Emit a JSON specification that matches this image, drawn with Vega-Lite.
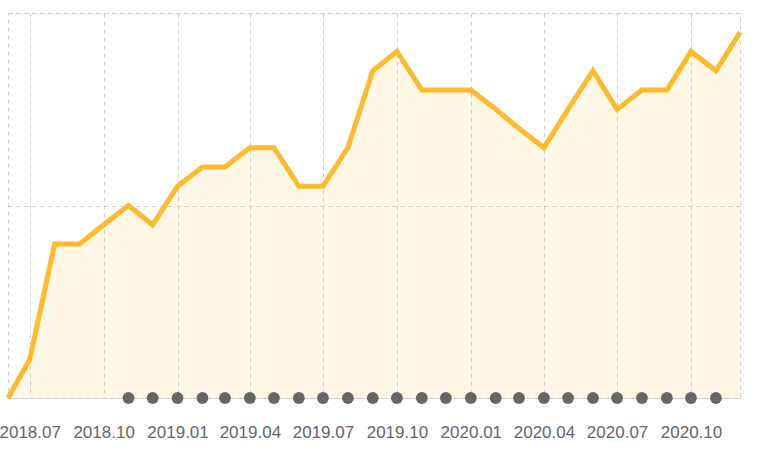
{
  "$schema": "https://vega.github.io/schema/vega-lite/v6.json",
  "autosize": "none",
  "width": 732,
  "height": 385,
  "padding": {"left": 8, "top": 13, "right": 25, "bottom": 56},
  "background": "white",
  "config": {
    "view": {"stroke": "#cccccc", "strokeDash": [4, 4], "strokeWidth": 1},
    "font": "Liberation Sans"
  },
  "datasets": {
    "series": [
      {"month": "2018/06/04", "value": 0},
      {"month": "2018/07/01", "value": 2},
      {"month": "2018/08/01", "value": 8},
      {"month": "2018/09/01", "value": 8},
      {"month": "2018/10/01", "value": 9},
      {"month": "2018/11/01", "value": 10},
      {"month": "2018/12/01", "value": 9},
      {"month": "2019/01/01", "value": 11},
      {"month": "2019/02/01", "value": 12},
      {"month": "2019/03/01", "value": 12},
      {"month": "2019/04/01", "value": 13},
      {"month": "2019/05/01", "value": 13},
      {"month": "2019/06/01", "value": 11},
      {"month": "2019/07/01", "value": 11},
      {"month": "2019/08/01", "value": 13},
      {"month": "2019/09/01", "value": 17},
      {"month": "2019/10/01", "value": 18},
      {"month": "2019/11/01", "value": 16},
      {"month": "2019/12/01", "value": 16},
      {"month": "2020/01/01", "value": 16},
      {"month": "2020/02/01", "value": 15},
      {"month": "2020/03/01", "value": 14},
      {"month": "2020/04/01", "value": 13},
      {"month": "2020/05/01", "value": 15},
      {"month": "2020/06/01", "value": 17},
      {"month": "2020/07/01", "value": 15},
      {"month": "2020/08/01", "value": 16},
      {"month": "2020/09/01", "value": 16},
      {"month": "2020/10/01", "value": 18},
      {"month": "2020/11/01", "value": 17},
      {"month": "2020/12/01", "value": 19}
    ],
    "dots": [
      {"month": "2018/11/01"}, {"month": "2018/12/01"},
      {"month": "2019/01/01"}, {"month": "2019/02/01"}, {"month": "2019/03/01"},
      {"month": "2019/04/01"}, {"month": "2019/05/01"}, {"month": "2019/06/01"},
      {"month": "2019/07/01"}, {"month": "2019/08/01"}, {"month": "2019/09/01"},
      {"month": "2019/10/01"}, {"month": "2019/11/01"}, {"month": "2019/12/01"},
      {"month": "2020/01/01"}, {"month": "2020/02/01"}, {"month": "2020/03/01"},
      {"month": "2020/04/01"}, {"month": "2020/05/01"}, {"month": "2020/06/01"},
      {"month": "2020/07/01"}, {"month": "2020/08/01"}, {"month": "2020/09/01"},
      {"month": "2020/10/01"}, {"month": "2020/11/01"}
    ]
  },
  "encoding": {
    "x": {
      "field": "month",
      "type": "temporal",
      "scale": {"domain": [{"year": 2018, "month": 6, "date": 4}, {"year": 2020, "month": 12, "date": 1}]},
      "axis": {
        "title": null,
        "format": "%Y.%m",
        "tickCount": {"interval": "month", "step": 3},
        "domain": false,
        "ticks": false,
        "labelFontSize": 17,
        "labelColor": "#666666",
        "labelPadding": 26,
        "labelFlush": false,
        "labelOverlap": false,
        "grid": true,
        "gridColor": "#cccccc",
        "gridDash": [4, 4]
      }
    }
  },
  "layer": [
    {
      "data": {"name": "series"},
      "mark": {"type": "area", "color": "#FFBB2C", "opacity": 0.12},
      "encoding": {
        "y": {
          "field": "value",
          "type": "quantitative",
          "scale": {"domain": [0, 20]},
          "axis": {
            "title": null,
            "labels": false,
            "ticks": false,
            "domain": false,
            "values": [0, 10, 20],
            "grid": true,
            "gridColor": "#cccccc",
            "gridDash": [4, 4]
          }
        }
      }
    },
    {
      "data": {"name": "series"},
      "mark": {"type": "line", "color": "#FFBB2C", "strokeWidth": 5, "strokeJoin": "miter"},
      "encoding": {
        "y": {"field": "value", "type": "quantitative"}
      }
    },
    {
      "data": {"name": "dots"},
      "mark": {"type": "circle", "color": "#666666", "opacity": 1, "size": 140},
      "encoding": {
        "y": {"datum": 0, "type": "quantitative"}
      }
    }
  ]
}
